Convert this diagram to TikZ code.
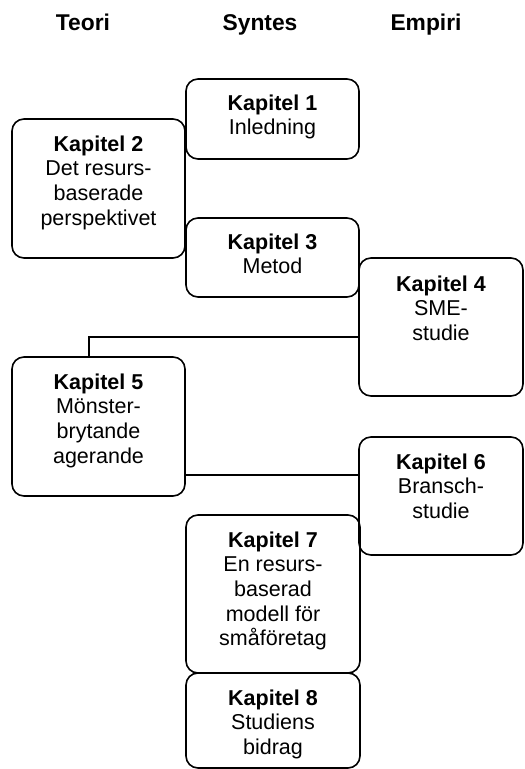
\documentclass[tikz,border=0pt]{standalone}
\usepackage{fontspec}
\setmainfont{Liberation Sans}
\usetikzlibrary{positioning}

\tikzset{
  kapbox/.style={draw, rounded corners=6pt, line width=0.8pt, inner sep=0pt},
  kaptext/.style={align=center, inner sep=0pt, font=\fontsize{10.75}{12.35}\selectfont},
  rubrik/.style={anchor=base, font=\fontsize{11.4}{13}\selectfont\bfseries},
  link/.style={line width=1.4pt}
}

\begin{document}
\begin{tikzpicture}[x=0.5pt, y=-0.5pt]
 \useasboundingbox (0,0) rectangle (524,769);

 % Rubriker
 \node[rubrik] (teori) at (83,31) {Teori};
 \node[rubrik] (syntes) at (260,31) {Syntes};
 \node[rubrik] (empiri) at (426,31) {Empiri};

 % Kapitelrutor
 \node[kapbox, minimum width=86.5pt, minimum height=40pt] (k1) at (272.5,119) {};
 \node[kaptext, below=8pt of k1.north] (t1) {\textbf{Kapitel 1}\\Inledning};

 \node[kapbox, minimum width=86.5pt, minimum height=69.5pt] (k2) at (98.5,188.5) {};
 \node[kaptext, below=8.5pt of k2.north] (t2) {\textbf{Kapitel 2}\\Det resurs-\\baserade\\perspektivet};

 \node[kapbox, minimum width=86.5pt, minimum height=39.5pt] (k3) at (272.5,257.5) {};
 \node[kaptext, below=8pt of k3.north] (t3) {\textbf{Kapitel 3}\\Metod};

 \node[kapbox, minimum width=82pt, minimum height=69pt] (k4) at (441,327) {};
 \node[kaptext, below=9pt of k4.north] (t4) {\textbf{Kapitel 4}\\SME-\\studie};

 \node[kapbox, minimum width=86.5pt, minimum height=69.5pt] (k5) at (98.5,426.5) {};
 \node[kaptext, below=8.5pt of k5.north] (t5) {\textbf{Kapitel 5}\\Mönster-\\brytande\\agerande};

 \node[kapbox, minimum width=82pt, minimum height=59pt] (k6) at (441,496) {};
 \node[kaptext, below=8.5pt of k6.north] (t6) {\textbf{Kapitel 6}\\Bransch-\\studie};

 \node[kapbox, minimum width=87pt, minimum height=79pt] (k7) at (273,594) {};
 \node[kaptext, below=8.5pt of k7.north] (t7) {\textbf{Kapitel 7}\\En resurs-\\baserad\\modell för\\småföretag};

 \node[kapbox, minimum width=87pt, minimum height=47.5pt] (k8) at (273,720.5) {};
 \node[kaptext, below=8.5pt of k8.north] (t8) {\textbf{Kapitel 8}\\Studiens\\bidrag};

 % Kopplingar
 \draw[link] ([yshift=-5pt]k4.west) -| ([xshift=-4.75pt]k5.north);
 \draw[link] ([yshift=-24.25pt]k5.east) -- ([yshift=-24.25pt]k5.east -| k6.west);
\end{tikzpicture}
\end{document}
